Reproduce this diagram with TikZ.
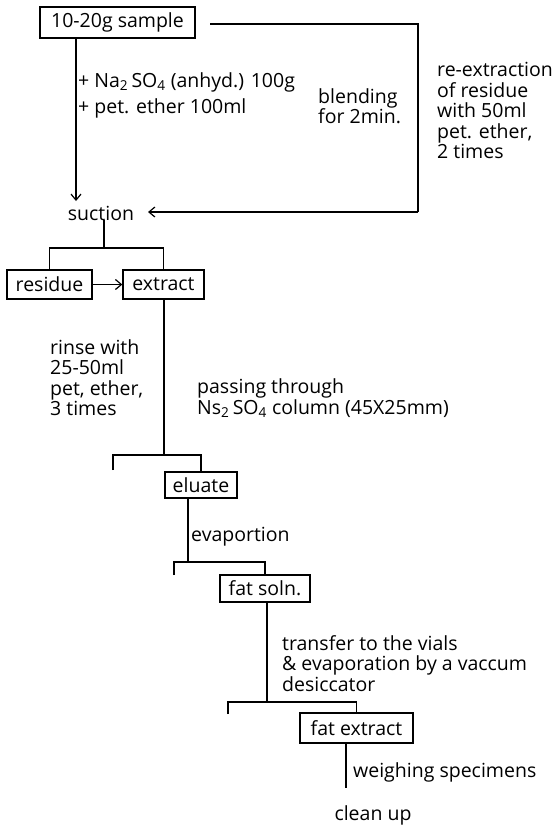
\documentclass[tikz,border=0pt]{standalone}
\usepackage{fontspec}
\setmainfont{Open Sans}
\usetikzlibrary{arrows.meta}
\tikzset{
  txt/.style={font=\fontsize{19.5}{20.5}\selectfont},
  box/.style={draw, line width=1.3pt, inner sep=0pt, txt},
  lbl/.style={inner sep=0pt, txt, align=left},
  conn/.style={line width=1.2pt},
  arr/.style={line width=1.2pt, -{Straight Barb[length=6pt,width=10pt,line width=1.2pt]}}
}
\begin{document}
\begin{tikzpicture}[x=1pt,y=-1pt]
\path[use as bounding box] (0,0) rectangle (559,828);
% boxes
\node[box, minimum width=155pt, minimum height=31pt] (sample) at (117.5,22.5) {10-20g sample};
\node[lbl] (suction) at (101,213) {suction};
\node[box, minimum width=85pt, minimum height=29pt] (residue) at (49.5,284.5) {residue};
\node[box, minimum width=81pt, minimum height=29pt] (extract) at (163.5,284.5) {extract};
\node[box, minimum width=72pt, minimum height=26pt] (eluate) at (201,485) {eluate};
\node[box, minimum width=90pt, minimum height=27pt] (fatsoln) at (265,588.5) {fat soln.};
\node[box, minimum width=113pt, minimum height=30pt] (fatextract) at (356.5,728) {fat extract};
\node[lbl] (cleanup) at (373,815) {clean up};
% labels
\node[lbl, anchor=north west] (add) at (78,72.5) {+ Na\textsubscript{2}\,SO\textsubscript{4} (anhyd.) 100g\\[5pt]+ pet. ether 100ml};
\node[lbl, anchor=north west] (blend) at (318,88) {blending\\for 2min.};
\node[lbl, anchor=north west] (reext) at (437,62) {re-extraction\\of residue\\with 50ml\\pet. ether,\\2 times};
\node[lbl, anchor=north west] (rinse) at (50,339) {rinse with\\25-50ml\\pet, ether,\\3 times};
\node[lbl, anchor=north west] (pass) at (197,378.5) {passing through\\Ns\textsubscript{2}\,SO\textsubscript{4} column (45X25mm)};
\node[lbl, anchor=west] (evap) at (191,537) {evaportion};
\node[lbl, anchor=north west] (transfer) at (282,635) {transfer to the vials\\\& evaporation by a vaccum\\desiccator};
\node[lbl, anchor=west] (weigh) at (353,772) {weighing specimens};
% coordinates
\coordinate (s0) at (210,24);
\coordinate (s1) at (418,24);
\coordinate (s2) at (418,212);
\coordinate (tip) at (148,212);
\coordinate (d1) at (104,248);
\coordinate (d2) at (164,455);
\coordinate (d3) at (188,562);
\coordinate (d4) at (267,702);
\coordinate (t1) at (113,470);
\coordinate (t2) at (174,575);
\coordinate (t3) at (228,714);
\coordinate (e1) at (346,788);
% connectors
\draw[arr] (sample.south -| 76,0) -- (76,201);
\draw[conn] (s0) -- (s1) -- (s2);
\draw[arr] (s2) -- (tip);
\draw[conn] (suction.south -| d1) -- (d1);
\draw[conn] (residue.north) |- (d1) -| (extract.north);
\draw[arr] (residue.east) -- (extract.west);
\draw[conn] (extract.south -| d2) -- (d2);
\draw[conn] (t1) |- (d2) -| (eluate.north);
\draw[conn] (eluate.south -| d3) -- (d3);
\draw[conn] (t2) |- (d3) -| (fatsoln.north);
\draw[conn] (fatsoln.south -| d4) -- (d4);
\draw[conn] (t3) |- (d4) -| (fatextract.north);
\draw[conn] (fatextract.south -| e1) -- (e1);
\end{tikzpicture}
\end{document}
